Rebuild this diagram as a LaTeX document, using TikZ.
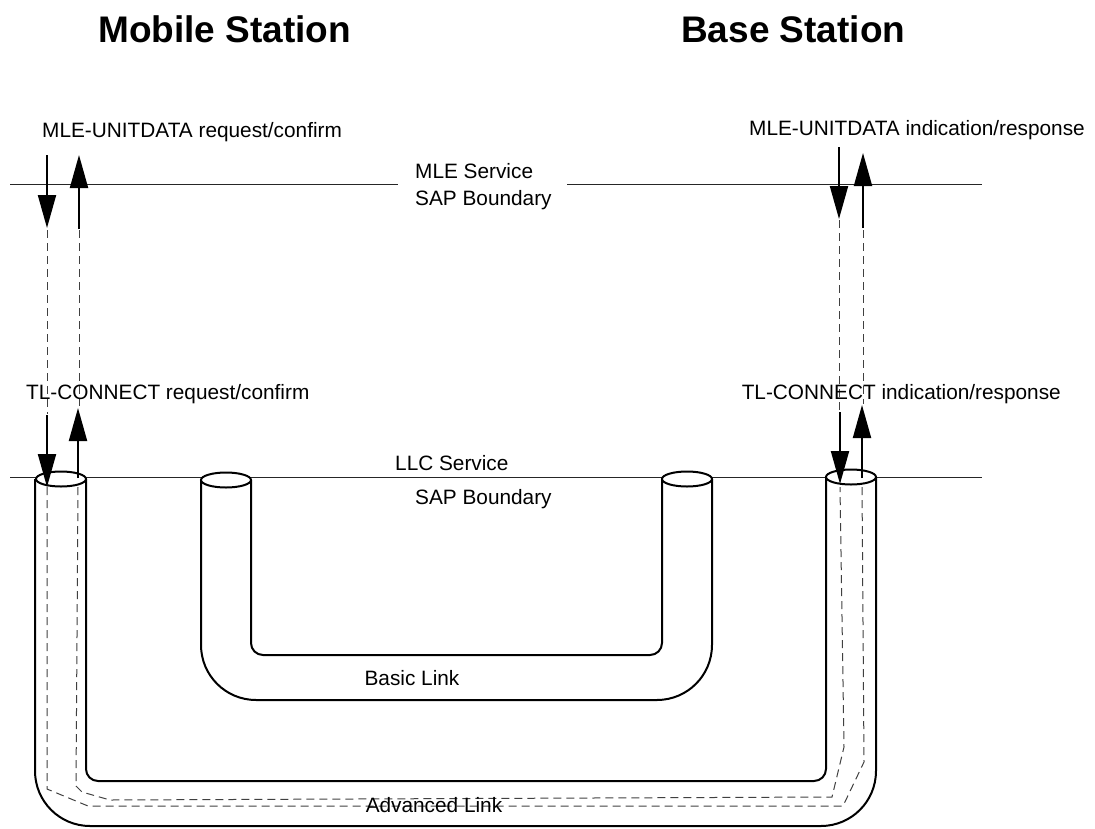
\documentclass[tikz,border=0pt]{standalone}
\usepackage{fontspec}
\setmainfont{Liberation Sans}
\usetikzlibrary{arrows.meta}
\begin{document}
\begin{tikzpicture}[x=1pt,y=-1pt,
  lbl/.style={inner sep=0pt, font=\fontsize{20.8}{24}\selectfont},
  ttl/.style={inner sep=0pt, font=\fontsize{37}{44}\selectfont\bfseries},
  sap/.style={line width=1pt, black!85},
  tube/.style={line width=2pt, line join=round},
  mouth/.style={line width=2pt, fill=white},
  sig/.style={line width=2pt, -{Triangle[length=33pt,width=18pt]}},
  trace/.style={line width=1pt, black!75, dash pattern=on 8pt off 5pt}
]
\useasboundingbox (0,0) rectangle (1095,828);

% titles
\node[ttl, anchor=base west] (ms) at (98,42) {Mobile Station};
\node[ttl, anchor=base west] (bs) at (681,42) {Base Station};

% SAP boundary lines
\coordinate (m0) at (10,184);  \coordinate (m1) at (398,184);
\coordinate (m2) at (567,184); \coordinate (m3) at (982,184);
\draw[sap] (m0) -- (m1);
\draw[sap] (m2) -- (m3);
\coordinate (l0) at (10,477);  \coordinate (l1) at (982,477);
\draw[sap] (l0) -- (l1);

\node[lbl, anchor=base west] (mles) at (415,178) {MLE Service};
\node[lbl, anchor=base west] (mleb) at (415,205) {SAP Boundary};
\node[lbl, anchor=base west] (llcs) at (395,470) {LLC Service};
\node[lbl, anchor=base west] (llcb) at (415,504) {SAP Boundary};

% Basic link tube
\draw[tube, rounded corners=55pt] (201,480) -- (201,700) -- (712,700) -- (712,479);
\draw[tube, rounded corners=12pt] (251,480) -- (251,655) -- (662,655) -- (662,479);
\draw[mouth] (226,480) ellipse [x radius=25, y radius=7.5];
\draw[mouth] (687,479) ellipse [x radius=25, y radius=7.5];
\node[lbl, anchor=base] (basic) at (412,685) {Basic Link};

% Advanced link tube
\draw[tube, rounded corners=55pt] (35,479) -- (35,826) -- (876,826) -- (876,477);
\draw[tube, rounded corners=12pt] (86,479) -- (86,781) -- (826,781) -- (826,477);

% dashed traces inside the advanced link
\coordinate (oa) at (47,487);  \coordinate (ob) at (862,484);
\coordinate (ia) at (78,487);  \coordinate (ib) at (840,487);
\draw[trace] (oa) -- (47,789) -- (88,806) -- (843,806) -- (864,762) -- (ob);
\draw[trace] (ia) -- (76,786) -- (82,792) -- (110,800) -- (832,797) -- (844,747) -- (ib);

\draw[mouth] (61,479) ellipse [x radius=25, y radius=7.5];
\draw[mouth] (851,477) ellipse [x radius=25, y radius=7.5];

% dashed traces between the SAP boundaries
\coordinate (d1a) at (47,230);  \coordinate (d1b) at (47,414);
\coordinate (d2a) at (79,230);  \coordinate (d2b) at (79,406);
\coordinate (d3a) at (839,220); \coordinate (d3b) at (839,412);
\coordinate (d4a) at (863,230); \coordinate (d4b) at (863,404);
\draw[trace] (d1a) -- (d1b);
\draw[trace] (d2a) -- (d2b);
\draw[trace] (d3a) -- (d3b);
\draw[trace] (d4a) -- (d4b);

% MLE primitives
\coordinate (a1s) at (47,155);  \coordinate (a1e) at (47,228);
\coordinate (a2s) at (79,229);  \coordinate (a2e) at (79,155);
\coordinate (a3s) at (839,147); \coordinate (a3e) at (839,219);
\coordinate (a4s) at (863,228); \coordinate (a4e) at (863,153);
\draw[sig] (a1s) -- (a1e);
\draw[sig] (a2s) -- (a2e);
\draw[sig] (a3s) -- (a3e);
\draw[sig] (a4s) -- (a4e);

% TL primitives
\coordinate (b1s) at (47,415);  \coordinate (b1e) at (47,487);
\coordinate (b2s) at (78,478);  \coordinate (b2e) at (78,408);
\coordinate (b3s) at (840,412); \coordinate (b3e) at (840,484);
\coordinate (b4s) at (862,478); \coordinate (b4e) at (862,405);
\draw[sig] (b1s) -- (b1e);
\draw[sig] (b2s) -- (b2e);
\draw[sig] (b3s) -- (b3e);
\draw[sig] (b4s) -- (b4e);

% primitive labels
\node[lbl, anchor=base west] (mlereq) at (42,137) {MLE-UNITDATA request/confirm};
\node[lbl, anchor=base east] (mleind) at (1085,135) {MLE-UNITDATA indication/response};
\node[lbl, anchor=base west] (tlreq) at (26,399) {TL-CONNECT request/confirm};
\node[lbl, anchor=base east] (tlind) at (1061,399) {TL-CONNECT indication/response};

\node[lbl, anchor=base] (adv) at (434,812) {Advanced Link};
\end{tikzpicture}
\end{document}
